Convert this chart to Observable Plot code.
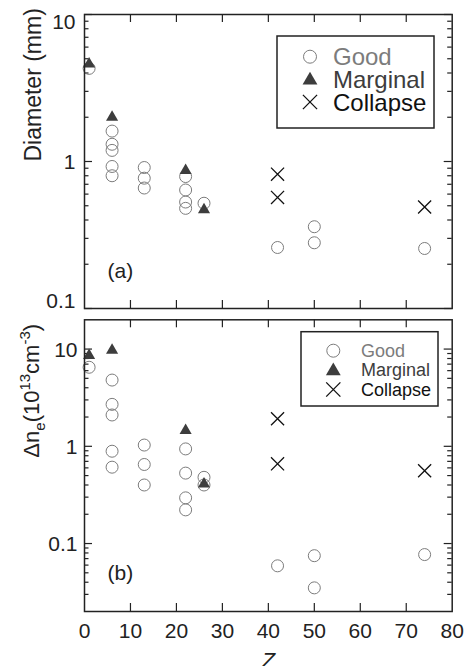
<!DOCTYPE html>
<html><head><meta charset="utf-8">
<script src="https://cdn.jsdelivr.net/npm/d3@7"></script>
<script src="https://cdn.jsdelivr.net/npm/@observablehq/plot@0.6"></script>
<style>
body{margin:0;background:#fff;}
#chart{position:relative;width:465px;height:666px;background:#fff;overflow:hidden;}
#chart svg{position:absolute;left:0;overflow:visible;}
</style></head><body><div id="chart"></div>
<script>
// ---------- data ----------
const legendLabels = ["Good", "Marginal", "Collapse"];

// panel (a): diameter (mm)
const goodZa = [1, 6, 6, 6, 6, 6, 13, 13, 13, 22, 22, 22, 22, 26, 42, 50, 50, 74];
const goodDiam = [4.3, 1.61, 1.31, 1.19, 0.925, 0.80, 0.91, 0.77, 0.66, 0.79, 0.64, 0.53, 0.48, 0.52, 0.26, 0.36, 0.28, 0.256];
const marginalZa = [1, 6, 22, 26];
const marginalDiam = [4.6, 2.0, 0.87, 0.47];
const collapseZa = [42, 42, 74];
const collapseDiam = [0.82, 0.57, 0.49];

// panel (b): delta n_e (1e13 cm^-3)
const goodZb = [1, 6, 6, 6, 6, 6, 13, 13, 13, 22, 22, 22, 22, 26, 26, 42, 50, 50, 74];
const goodDn = [6.5, 4.8, 2.7, 2.1, 0.89, 0.61, 1.03, 0.65, 0.40, 0.94, 0.53, 0.295, 0.222, 0.48, 0.40, 0.059, 0.075, 0.035, 0.077];
const marginalZb = [1, 6, 22, 26];
const marginalDn = [8.6, 9.7, 1.45, 0.41];
const collapseZb = [42, 42, 74];
const collapseDn = [1.92, 0.66, 0.56];

// ticks
const xTickLabels = [0, 10, 20, 30, 40, 50, 60, 70, 80];
const xInnerTicks = [10, 20, 30, 40, 50, 60, 70];
const yMajorA = [0.1, 1, 10];
const yMinorA = [0.2, 0.3, 0.4, 0.5, 0.6, 0.7, 0.8, 0.9, 2, 3, 4, 5, 6, 7, 8, 9];
const yMajorB = [0.1, 1, 10];
const yMinorB = [0.03, 0.04, 0.05, 0.06, 0.07, 0.08, 0.09, 0.2, 0.3, 0.4, 0.5, 0.6, 0.7, 0.8, 0.9, 2, 3, 4, 5, 6, 7, 8, 9];

// ---------- style ----------
const FONT = '"Liberation Sans", Arial, Helvetica, sans-serif';
const INK = "#222";
const GOOD = "#7c7c7c";
const MARG = "#3d3d3d";
const COLL = "#111";
const W = 465, ML = 84, MR = 13.3;
const FW = W - ML - MR;

const pts = (zs, vs) => zs.map((z, i) => ({z, v: vs[i]}));
const fmt = d => String(d);

function frameTicks(yMajor, yMinor, fh) {
  const st = {stroke: INK, strokeWidth: 1.2};
  return [
    Plot.ruleY(yMajor, {y: d => d, insetRight: FW - 8, ...st}),
    Plot.ruleY(yMajor, {y: d => d, insetLeft: FW - 8, ...st}),
    Plot.ruleY(yMinor, {y: d => d, insetRight: FW - 4.5, ...st}),
    Plot.ruleY(yMinor, {y: d => d, insetLeft: FW - 4.5, ...st}),
    Plot.ruleX(xInnerTicks, {x: d => d, insetBottom: fh - 8, ...st}),
    Plot.ruleX(xInnerTicks, {x: d => d, insetTop: fh - 8, ...st})
  ];
}

function dataMarks(good, marg, coll) {
  return [
    Plot.dot(good, {x: "z", y: "v", r: 6, stroke: GOOD, fill: "none", strokeWidth: 1}),
    Plot.dot(marg, {x: "z", y: "v", r: 4.5, symbol: "triangle", fill: MARG, stroke: "none"}),
    Plot.dot(coll, {x: "z", y: "v", r: 6, symbol: "times", stroke: COLL, strokeWidth: 1.3})
  ];
}

function addLegend(svg, box, rows, symX, textX, fs, rs) {
  const g = d3.select(svg).append("g");
  g.append("rect").attr("x", box.x).attr("y", box.y).attr("width", box.w).attr("height", box.h)
    .attr("fill", "white").attr("stroke", INK).attr("stroke-width", 1.5);
  const colors = [GOOD, MARG, COLL];
  legendLabels.forEach((lab, i) => {
    const cy = rows[i];
    if (i === 0) {
      g.append("circle").attr("cx", symX).attr("cy", cy).attr("r", rs).attr("fill", "none").attr("stroke", GOOD);
    } else if (i === 1) {
      g.append("path").attr("transform", `translate(${symX},${cy + 1})`)
        .attr("d", d3.symbol(d3.symbolTriangle, Math.PI * (rs - 1) * (rs - 1))()).attr("fill", MARG);
    } else {
      g.append("path").attr("transform", `translate(${symX},${cy})`)
        .attr("d", d3.symbol(d3.symbolTimes, Math.PI * rs * rs)()).attr("fill", "none")
        .attr("stroke", COLL).attr("stroke-width", 1.3);
    }
    g.append("text").attr("x", textX).attr("y", cy + 0.36 * fs).attr("font-size", fs)
      .attr("text-anchor", "start").attr("font-family", FONT).attr("fill", colors[i]).text(lab);
  });
}

// ---------- panel (a) ----------
const H1 = 316, MT1 = 14, MB1 = 8;
const FH1 = H1 - MT1 - MB1;
const plotA = Plot.plot({
  width: W, height: H1, marginLeft: ML, marginRight: MR, marginTop: MT1, marginBottom: MB1,
  x: {domain: [0, 80], axis: null},
  y: {type: "log", domain: [0.1, 10], axis: null},
  style: {fontFamily: FONT, color: INK, background: "transparent"},
  marks: [
    ...frameTicks(yMajorA, yMinorA, FH1),
    Plot.text([10], {y: d => d, frameAnchor: "left", textAnchor: "end", dx: -9, dy: 7.5, text: fmt, fontSize: 21, fill: INK}),
    Plot.text([1], {y: d => d, frameAnchor: "left", textAnchor: "end", dx: -9, dy: 1, text: fmt, fontSize: 21, fill: INK}),
    Plot.text([0.1], {y: d => d, frameAnchor: "left", textAnchor: "end", dx: -9, dy: -7, text: fmt, fontSize: 21, fill: INK}),
    Plot.text(["Diameter (mm)"], {frameAnchor: "left", dx: -51, rotate: -90, fontSize: 23, fill: INK}),
    Plot.text(["(a)"], {frameAnchor: "bottom-left", dx: 23, dy: -31, textAnchor: "start", fontSize: 21, fill: INK}),
    ...dataMarks(pts(goodZa, goodDiam), pts(marginalZa, marginalDiam), pts(collapseZa, collapseDiam)),
    Plot.frame({stroke: INK, strokeWidth: 1.5})
  ]
});
plotA.style.top = "0px";

// ---------- panel (b) ----------
const TOP2 = 316;
const H2 = 350, MT2 = 3.3, MB2 = 55;
const FH2 = H2 - MT2 - MB2;
const YLAB_B = "Δne(1013cm-3)";
const plotB = Plot.plot({
  width: W, height: H2, marginLeft: ML, marginRight: MR, marginTop: MT2, marginBottom: MB2,
  x: {domain: [0, 80], axis: null},
  y: {type: "log", domain: [0.02, 20], axis: null},
  style: {fontFamily: FONT, color: INK, background: "transparent"},
  marks: [
    ...frameTicks(yMajorB, yMinorB, FH2),
    Plot.text(yMajorB, {y: d => d, frameAnchor: "left", textAnchor: "end", dx: -7, dy: 1, text: fmt, fontSize: 21, fill: INK}),
    Plot.text(xTickLabels, {x: d => d, frameAnchor: "bottom", lineAnchor: "top", dy: 12, text: fmt, fontSize: 21, fill: INK}),
    Plot.text(["Z"], {frameAnchor: "bottom", lineAnchor: "top", dy: 41, fontSize: 22, fontStyle: "italic", fill: INK}),
    Plot.text([YLAB_B], {frameAnchor: "left", dx: -53, dy: -8, rotate: -90, fontSize: 22, fill: INK}),
    Plot.text(["(b)"], {frameAnchor: "bottom-left", dx: 23, dy: -32, textAnchor: "start", fontSize: 21, fill: INK}),
    ...dataMarks(pts(goodZb, goodDn), pts(marginalZb, marginalDn), pts(collapseZb, collapseDn)),
    Plot.frame({stroke: INK, strokeWidth: 1.5})
  ]
});
plotB.style.top = TOP2 + "px";

// rich y label for panel (b): sub/superscripts
for (const t of plotB.querySelectorAll("text")) {
  if (t.textContent === YLAB_B) {
    const s = d3.select(t);
    s.text(null);
    const parts = [
      ["Δn", 0, 22], ["e", 6, 15], ["(10", -6, 22], ["13", -9, 15], ["cm", 9, 22], ["-3", -9, 15], [")", 9, 22]
    ];
    for (const [str, dy, fs] of parts) {
      s.append("tspan").attr("dy", dy).attr("font-size", fs).text(str);
    }
  }
}

const chart = document.getElementById("chart");
chart.append(plotA, plotB);

addLegend(plotA, {x: 277, y: 36, w: 157, h: 92}, [56.7, 79.3, 102], 310, 333, 24, 6.5);
addLegend(plotB, {x: 301, y: 331.7 - TOP2, w: 137, h: 74.3}, [350.7 - TOP2, 370 - TOP2, 389.5 - TOP2], 333.3, 361, 18, 6.5);
</script></body></html>
